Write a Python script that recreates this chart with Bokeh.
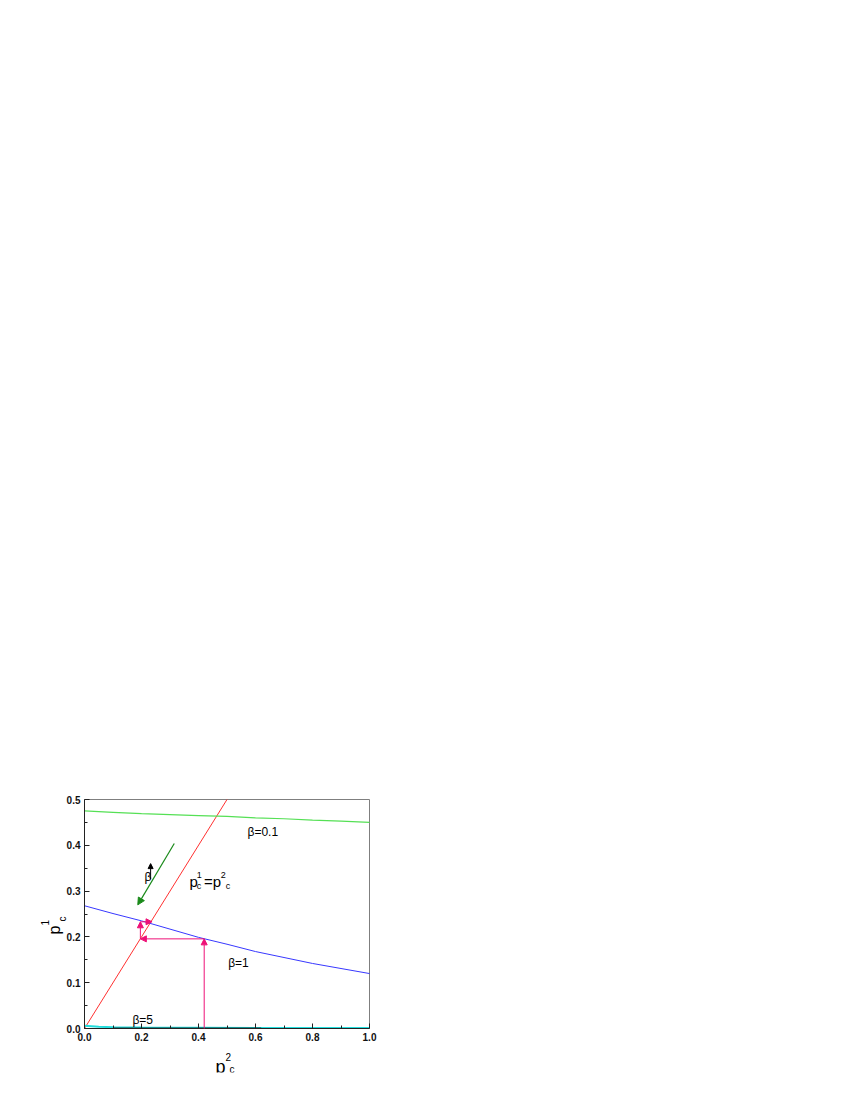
import math
from bokeh.plotting import figure
from bokeh.models import (Range1d, FixedTicker, NumeralTickFormatter, Label,
                          Arrow, NormalHead)
from bokeh.embed import file_html
from bokeh.resources import INLINE

# ---- data ----
eq_x = [0.0, 0.5]
eq_y = [0.0, 0.5]

b01_x = [0.0, 0.1, 0.2, 0.3, 0.4, 0.5, 0.6, 0.7, 0.8, 0.9, 1.0]
b01_y = [0.475, 0.472, 0.469, 0.467, 0.465, 0.463, 0.460, 0.458, 0.455, 0.453, 0.450]

b1_x = [0.0, 0.1, 0.2, 0.3, 0.4, 0.5, 0.6, 0.7, 0.8, 0.9, 1.0]
b1_y = [0.268, 0.251, 0.235, 0.217, 0.199, 0.184, 0.168, 0.155, 0.142, 0.131, 0.120]

b5_x = [0.0, 0.05, 0.1, 0.2, 0.4, 0.6, 0.8, 1.0]
b5_y = [0.006, 0.004, 0.003, 0.002, 0.0015, 0.001, 0.001, 0.001]

teal_x = [0.1, 0.62]
teal_y = [0.001, 0.001]

cob_x = [0.42, 0.42, 0.196, 0.196, 0.237]
cob_y = [0.0, 0.1957, 0.1957, 0.233, 0.233]

green_arrow = [(0.315, 0.404), (0.187, 0.270)]
beta_arrow = [(0.232, 0.326), (0.232, 0.360)]

x_ticks = [0.0, 0.2, 0.4, 0.6, 0.8, 1.0]
x_minor = [0.1, 0.3, 0.5, 0.7, 0.9]
y_ticks = [0.0, 0.1, 0.2, 0.3, 0.4, 0.5]
y_minor = [0.05, 0.15, 0.25, 0.35, 0.45]
x_lim = (0.0, 1.0)
y_lim = (0.0, 0.5)

FONT = "Liberation Sans"

# frame spans a margin around the plot box so titles can sit inside it
PX_X = 285.0   # px per x unit
PX_Y = 458.0   # px per y unit
x_range = Range1d(x_lim[0] - 52 / PX_X, x_lim[1] + 23 / PX_X)
y_range = Range1d(y_lim[0] - 44 / PX_Y, y_lim[1] + 12 / PX_Y)

p = figure(output_backend="svg", toolbar_location=None,
           frame_width=360, frame_height=285,
           min_border_left=32, min_border_top=787,
           min_border_right=10, min_border_bottom=5,
           x_range=x_range, y_range=y_range)
p.xgrid.visible = False
p.ygrid.visible = False
p.outline_line_color = None
p.background_fill_color = "white"
p.border_fill_color = "white"

# top and right borders of the plot box (drawn as a hollow quad)
p.quad(left=[x_lim[0]], right=[x_lim[1]], bottom=[y_lim[0]], top=[y_lim[1]],
       fill_color=None, line_color="#7f7f7f", line_width=1)

for ax, maj, mnr, loc, bnd in ((p.xaxis[0], x_ticks, x_minor, y_lim[0], x_lim),
                               (p.yaxis[0], y_ticks, y_minor, x_lim[0], y_lim)):
    ax.ticker = FixedTicker(ticks=maj, minor_ticks=mnr)
    ax.formatter = NumeralTickFormatter(format="0.0")
    ax.fixed_location = loc
    ax.bounds = bnd
    ax.major_tick_in = 5
    ax.major_tick_out = 0
    ax.minor_tick_in = 3
    ax.minor_tick_out = 0
    ax.axis_line_color = "#222222"
    ax.major_tick_line_color = "#222222"
    ax.minor_tick_line_color = "#222222"
    ax.major_label_text_font = FONT
    ax.major_label_text_font_size = "10px"
    ax.major_label_text_font_style = "bold"
    ax.major_label_text_color = "#111111"
    ax.major_label_standoff = 4

# curves
p.line(eq_x, eq_y, line_color="#FF3030", line_width=1)
p.line(b01_x, b01_y, line_color="#55E055", line_width=1.2)
p.line(b1_x, b1_y, line_color="#3838FF", line_width=1)
p.line(b5_x, b5_y, line_color="#22DDDD", line_width=2)
p.line(teal_x, teal_y, line_color="#117777", line_width=1.5)

# cobweb
COB = "#EE1177"
for i in range(len(cob_x) - 1):
    p.add_layout(Arrow(end=NormalHead(size=6, fill_color=COB, line_color=COB),
                       x_start=cob_x[i], y_start=cob_y[i],
                       x_end=cob_x[i + 1], y_end=cob_y[i + 1],
                       line_color=COB, line_width=1))

p.add_layout(Arrow(end=NormalHead(size=7, fill_color="#1A8A1A", line_color="#1A8A1A"),
                   x_start=green_arrow[0][0], y_start=green_arrow[0][1],
                   x_end=green_arrow[1][0], y_end=green_arrow[1][1],
                   line_color="#1A8A1A", line_width=1.2))
p.add_layout(Arrow(end=NormalHead(size=5, fill_color="black", line_color="black"),
                   x_start=beta_arrow[0][0], y_start=beta_arrow[0][1],
                   x_end=beta_arrow[1][0], y_end=beta_arrow[1][1],
                   line_color="black", line_width=1))


def lab(x, y, t, size, angle=0.0):
    p.add_layout(Label(x=x, y=y, text=t, text_font=FONT, text_font_size=size,
                       text_color="black", text_align="left",
                       text_baseline="alphabetic", angle=angle))


# curve labels
lab(0.572, 0.428, "β=0.1", "12px")
lab(0.504, 0.144, "β=1", "12px")
lab(0.168, 0.0175, "β=5", "12px")
lab(0.2105, 0.330, "β", "12px")

# p^1_c = p^2_c
lab(0.368, 0.321, "p", "15px")
lab(0.394, 0.335, "1", "9px")
lab(0.394, 0.311, "c", "9px")
lab(0.419, 0.321, "=p", "15px")
lab(0.478, 0.335, "2", "9px")
lab(0.496, 0.311, "c", "9px")

# x axis title p^2_c
lab(0.4596, -0.083, "p", "18px")
lab(0.4947, -0.0633, "2", "10px")
lab(0.5088, -0.0895, "c", "10px")

# y axis title p^1_c (rotated)
lab(-0.105, 0.2052, "p", "16px", math.pi / 2)
lab(-0.140, 0.225, "1", "10px", math.pi / 2)
lab(-0.077, 0.2336, "c", "10px", math.pi / 2)

open("out.html", "w").write(file_html(p, INLINE))
